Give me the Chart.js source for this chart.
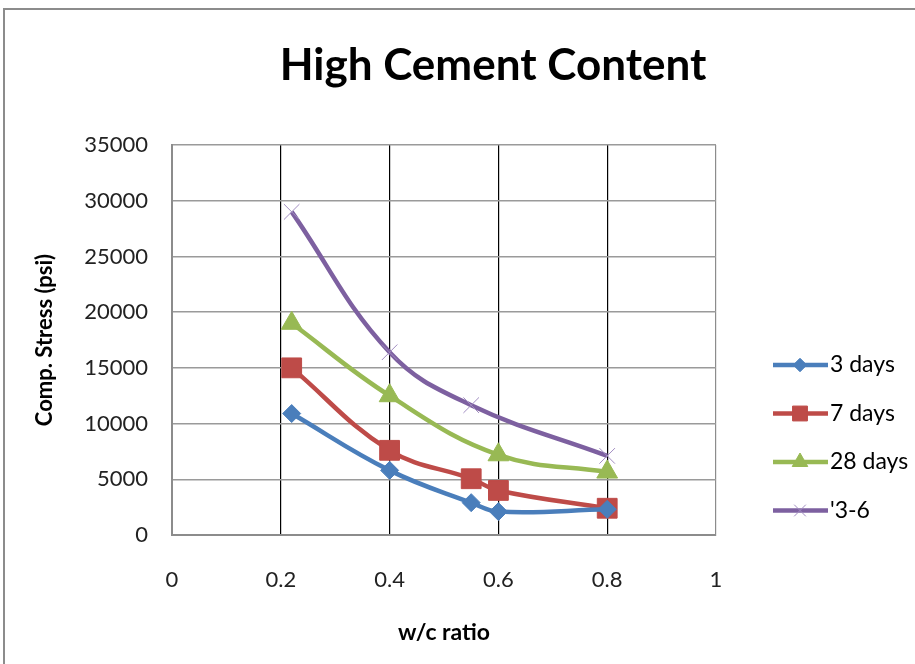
<!DOCTYPE html>
<html lang="en">
<head>
    <meta charset="UTF-8">
    <title>High Cement Content</title>
    <style>
        body {
            margin: 0;
            background: #ffffff;
        }
        #chartContainer {
            width: 915px;
            height: 664px;
        }
    </style>
    <script src="https://cdn.jsdelivr.net/npm/chart.js"></script>
</head>
<body>

<div id="chartContainer">
    <canvas id="myChart" width="915" height="664"></canvas>
</div>

<script>
    // values
    const xDays3 = [0.22, 0.40, 0.55, 0.60, 0.80];
    const days3 = [10900, 5800, 2900, 2100, 2300];

    const xDays7 = [0.22, 0.40, 0.55, 0.60, 0.80];
    const days7 = [15000, 7600, 5050, 4000, 2400];

    const xDays28 = [0.22, 0.40, 0.60, 0.80];
    const days28 = [19000, 12500, 7200, 5650];

    const xDays36 = [0.22, 0.40, 0.55, 0.80];
    const days36 = [29000, 16400, 11650, 7100];

    const seriesNames = ['3 days', '7 days', '28 days', "'3-6"];

    const FONT = 'Lato, "Open Sans", sans-serif';

    function toPoints(xs, ys) {
        return xs.map((x, i) => ({ x: x, y: ys[i] }));
    }

    function series(label, xs, ys, color, style, radius, width) {
        return {
            label: label,
            data: toPoints(xs, ys),
            showLine: true,
            borderColor: color,
            backgroundColor: color,
            borderWidth: 4.5,
            tension: 0.4,
            pointStyle: style,
            pointRadius: radius,
            pointHoverRadius: radius,
            pointBorderWidth: width,
            pointBorderColor: color,
            pointBackgroundColor: color
        };
    }

    const datasets = [
        series(seriesNames[0], xDays3, days3, '#4a7ebb', 'rectRot', 9, 1),
        series(seriesNames[1], xDays7, days7, '#be4b48', 'rect', 14, 1),
        series(seriesNames[2], xDays28, days28, '#98b954', 'triangle', 12, 1),
        series(seriesNames[3], xDays36, days36, '#7d60a0', 'crossRot', 11, 1)
    ];
    datasets[3].pointBorderColor = '#a08cc0';

    // title, frame and legend drawn by hand
    const decorations = {
        id: 'decorations',
        afterDraw(chart) {
            const ctx = chart.ctx;
            ctx.save();

            ctx.strokeStyle = '#8c8c8c';
            ctx.lineWidth = 2;
            ctx.strokeRect(4, 9, 1000, 1000);

            ctx.fillStyle = '#000000';
            ctx.font = 'bold 44px ' + FONT;
            ctx.textAlign = 'center';
            ctx.textBaseline = 'middle';
            ctx.fillText('High Cement Content', 493, 66);

            ctx.font = '23px ' + FONT;
            ctx.textAlign = 'left';
            chart.data.datasets.forEach((ds, i) => {
                const y = 365 + i * 48.5;
                ctx.strokeStyle = ds.borderColor;
                ctx.lineWidth = ds.borderWidth;
                ctx.beginPath();
                ctx.moveTo(773, y);
                ctx.lineTo(828, y);
                ctx.stroke();

                ctx.fillStyle = ds.pointBackgroundColor;
                ctx.strokeStyle = ds.pointBorderColor;
                ctx.lineWidth = ds.pointBorderWidth;
                Chart.helpers.drawPoint(ctx, {
                    pointStyle: ds.pointStyle,
                    radius: ds.pointRadius * 0.75,
                    rotation: 0,
                    borderWidth: ds.pointBorderWidth
                }, 800, y);

                ctx.fillStyle = '#000000';
                ctx.fillText(ds.label, 830, y);
            });

            ctx.restore();
        }
    };

    const ctx = document.getElementById('myChart').getContext('2d');

    new Chart(ctx, {
        type: 'scatter',
        data: { datasets: datasets },
        options: {
            responsive: false,
            animation: false,
            layout: {
                padding: { top: 145, right: 199, bottom: 0, left: 0 }
            },
            plugins: {
                legend: { display: false },
                title: { display: false },
                tooltip: { enabled: false }
            },
            scales: {
                x: {
                    type: 'linear',
                    min: 0,
                    max: 1,
                    ticks: {
                        stepSize: 0.2,
                        padding: 32,
                        color: '#222222',
                        font: { family: FONT, size: 22 },
                        maxRotation: 0,
                        callback: value => String(Math.round(value * 10) / 10)
                    },
                    grid: {
                        drawTicks: false,
                        color: c => (c.tick.value === 0 || c.tick.value === 1) ? '#8c8c8c' : '#000000',
                        lineWidth: 1.2
                    },
                    border: { color: '#8c8c8c', width: 2 },
                    title: {
                        display: true,
                        text: 'w/c ratio',
                        color: '#000000',
                        font: { family: FONT, size: 23, weight: 'bold' },
                        padding: { top: 0, bottom: 18 }
                    },
                    afterFit: scale => { scale.height = 129; }
                },
                y: {
                    type: 'linear',
                    min: 0,
                    max: 35000,
                    ticks: {
                        stepSize: 5000,
                        padding: 24,
                        color: '#222222',
                        font: { family: FONT, size: 22 },
                        callback: value => String(value)
                    },
                    grid: {
                        drawTicks: false,
                        color: '#9a9a9a',
                        lineWidth: 1.5
                    },
                    border: { color: '#8c8c8c', width: 2 },
                    title: {
                        display: true,
                        text: 'Comp. Stress (psi)',
                        color: '#000000',
                        font: { family: FONT, size: 22, weight: 'bold' },
                        padding: { top: 32, bottom: 0 }
                    },
                    afterFit: scale => { scale.width = 172; }
                }
            }
        },
        plugins: [decorations]
    });
</script>

</body>
</html>
